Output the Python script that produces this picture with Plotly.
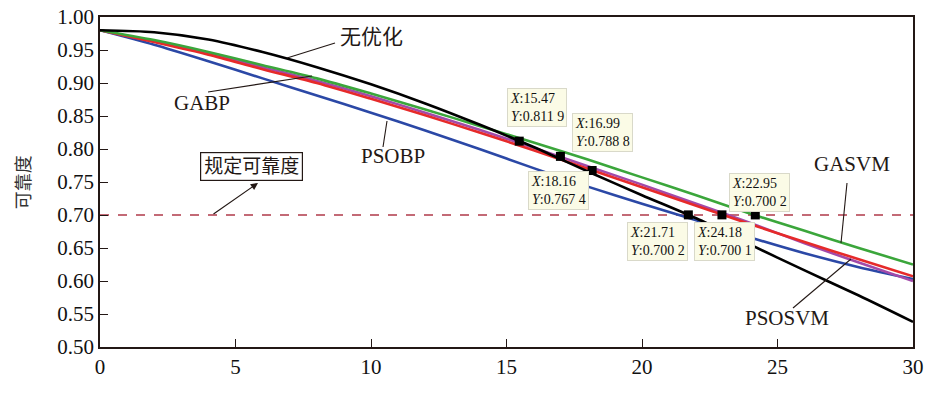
import plotly.graph_objects as go

# 贮存时间 (a) sample points
years = [0, 2, 4, 6, 8, 10, 12, 14, 16, 18, 20, 22, 24, 26, 28, 30]

# Reliability curves for each model
no_opt = [0.980, 0.977, 0.966, 0.947, 0.924, 0.898, 0.869, 0.837, 0.803, 0.766, 0.730, 0.695, 0.655, 0.616, 0.578, 0.538]
psobp  = [0.980, 0.958, 0.933, 0.907, 0.881, 0.855, 0.828, 0.800, 0.771, 0.743, 0.717, 0.692, 0.666, 0.642, 0.621, 0.603]
gabp   = [0.980, 0.963, 0.945, 0.924, 0.903, 0.880, 0.855, 0.829, 0.802, 0.774, 0.746, 0.717, 0.688, 0.657, 0.628, 0.600]
psosvm = [0.980, 0.962, 0.943, 0.921, 0.900, 0.876, 0.851, 0.825, 0.798, 0.770, 0.742, 0.714, 0.686, 0.659, 0.633, 0.607]
gasvm  = [0.980, 0.965, 0.947, 0.927, 0.907, 0.884, 0.860, 0.835, 0.810, 0.784, 0.757, 0.730, 0.702, 0.676, 0.650, 0.625]

# Required reliability level
required = 0.70

# Data-tip points (x, y)
tip_x = [15.47, 16.99, 18.16, 21.71, 22.95, 24.18]
tip_y = [0.8119, 0.7888, 0.7674, 0.7002, 0.7002, 0.7001]

SERIF = "Liberation Serif, Times New Roman, serif"
CJK = "Liberation Serif, Noto Sans CJK SC, sans-serif"
INK = "#231815"

# pixel -> data helpers for placing callouts
X0, X1, Y0, Y1 = 100, 913, 17, 347


def dx(px):
    return (px - X0) / (X1 - X0) * 30.0


def dy(py):
    return 1.0 - (py - Y0) / (Y1 - Y0) * 0.5


fig = go.Figure()

series = [
    ("PSOBP", psobp, "#2b48a6"),
    ("GABP", gabp, "#a24aa9"),
    ("PSOSVM", psosvm, "#e62a2a"),
    ("GASVM", gasvm, "#3ba63b"),
    ("无优化", no_opt, "#000000"),
]
for name, vals, col in series:
    fig.add_trace(go.Scatter(x=years, y=vals, mode="lines", name=name,
                             line=dict(color=col, width=2.6, shape="spline", smoothing=0.8),
                             showlegend=False, cliponaxis=True))

fig.add_hline(y=required, line=dict(color="#b03a4a", width=1.3, dash="dash"), layer="below")

fig.add_trace(go.Scatter(x=tip_x, y=tip_y, mode="markers",
                         marker=dict(symbol="square", size=9, color="#000000"),
                         showlegend=False))


def fmt_y(v):
    s = f"{v:.4f}"
    return s[:-1] + " " + s[-1]


# data-tip box top-left corners (pixels)
tip_boxes = [(507, 88), (572, 113), (528, 171), (627, 222), (729, 173), (694, 222)]
for (bx, by), xv, yv in zip(tip_boxes, tip_x, tip_y):
    fig.add_annotation(x=dx(bx), y=dy(by), xref="x", yref="y",
                       xanchor="left", yanchor="top", showarrow=False, align="left",
                       text=f"<i>X</i>:{xv:.2f}<br><i>Y</i>:{fmt_y(yv)}",
                       font=dict(family=SERIF, size=14, color="#111111"),
                       bgcolor="#fbfbe6", bordercolor="#d9d9c9", borderwidth=1, borderpad=2)

# model labels with leader lines
labels = [
    ("无优化", 371, 37, (287, 58), (335, 43)),
    ("GABP", 202, 103, (208, 92), (312, 76)),
    ("PSOBP", 393, 156, (383, 147), (387, 121)),
    ("GASVM", 852, 164, (847, 183), (841, 243)),
    ("PSOSVM", 787, 318, (793, 308), (851, 259)),
]
for text, tx, ty, (ax0, ay0), (ax1, ay1) in labels:
    fig.add_annotation(x=dx(tx), y=dy(ty), xref="x", yref="y", showarrow=False,
                       text=text, font=dict(family=CJK, size=21, color=INK))
    fig.add_shape(type="line", x0=dx(ax0), y0=dy(ay0), x1=dx(ax1), y1=dy(ay1),
                  xref="x", yref="y", line=dict(color=INK, width=1.1))

# boxed label for the required reliability
fig.add_annotation(x=dx(251), y=dy(166), xref="x", yref="y", showarrow=False,
                   text="规定可靠度", font=dict(family=CJK, size=19, color=INK),
                   bgcolor="white", bordercolor=INK, borderwidth=1.2, borderpad=3)
fig.add_annotation(x=dx(258), y=dy(183), ax=dx(212), ay=dy(215),
                   xref="x", yref="y", axref="x", ayref="y", text="",
                   showarrow=True, arrowhead=2, arrowsize=1.2, arrowwidth=1.2,
                   arrowcolor=INK)

# axis titles
fig.add_annotation(x=0.5, y=dy(400), xref="paper", yref="y", showarrow=False,
                   text="贮存时间/a", font=dict(family=CJK, size=20, color=INK))
fig.add_annotation(x=-0.108, y=0.5, xref="paper", yref="paper", showarrow=False,
                   text="可靠度", textangle=-90, font=dict(family=CJK, size=18, color="#333333"))

axis_common = dict(showline=True, linecolor=INK, linewidth=1.5, mirror=True,
                   ticks="inside", ticklen=8, tickwidth=1.2, tickcolor=INK,
                   showgrid=False, zeroline=False, automargin=False,
                   tickfont=dict(family=SERIF, size=21, color="#111111"))

fig.update_xaxes(range=[0, 30], tick0=0, dtick=5, **axis_common)
fig.update_yaxes(range=[0.5, 1.0], tick0=0.5, dtick=0.05, tickformat=".2f", **axis_common)

fig.update_layout(width=925, height=408, margin=dict(l=100, r=12, t=17, b=61),
                  paper_bgcolor="white", plot_bgcolor="white")

fig.write_html("out.html")
